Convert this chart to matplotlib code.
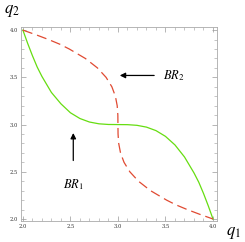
import matplotlib
matplotlib.use('agg')
import matplotlib.pyplot as plt
from matplotlib.ticker import MultipleLocator

# best response of firm 1 (green)
br1_q1 = [2.0, 2.05, 2.1, 2.15, 2.2, 2.3, 2.4, 2.5, 2.6, 2.7, 2.8, 2.9, 3.0,
          3.1, 3.2, 3.3, 3.4, 3.5, 3.6, 3.7, 3.8, 3.85, 3.9, 3.95, 4.0]
br1_q2 = [4.0, 3.86, 3.73, 3.61, 3.51, 3.34, 3.22, 3.125, 3.064, 3.027, 3.008,
          3.001, 3.0, 2.999, 2.992, 2.973, 2.936, 2.875, 2.784, 2.657, 2.488,
          2.39, 2.271, 2.14, 2.0]
# best response of firm 2 (red dashed)
br2_q2 = [4.0, 3.95, 3.9, 3.85, 3.8, 3.7, 3.6, 3.5, 3.4, 3.3, 3.2, 3.1, 3.0,
          2.9, 2.8, 2.7, 2.6, 2.5, 2.4, 2.3, 2.2, 2.15, 2.1, 2.05, 2.0]
br2_q1 = [2.0, 2.14, 2.271, 2.39, 2.488, 2.657, 2.784, 2.875, 2.936, 2.973,
          2.992, 2.999, 3.0, 3.001, 3.008, 3.027, 3.064, 3.125, 3.216, 3.343,
          3.512, 3.61, 3.729, 3.86, 4.0]

plt.rcParams['mathtext.fontset'] = 'stix'
plt.rcParams['font.family'] = 'DejaVu Serif'

fig = plt.figure(figsize=(2.45, 2.42), dpi=100)
ax = fig.add_axes([0.0857, 0.0868, 0.8, 0.8012])
ax.plot(br1_q1, br1_q2, color='#66dd11', lw=0.9)
ax.plot(br2_q1, br2_q2, color='#e04a32', lw=0.9, dashes=(8, 4))

ax.set_xlim(1.98, 4.042)
ax.set_ylim(1.979, 4.032)
for a in (ax.xaxis, ax.yaxis):
    a.set_major_locator(MultipleLocator(0.5))
    a.set_minor_locator(MultipleLocator(0.1))
ax.tick_params(which='both', direction='in', top=True, right=True,
               labelsize=3.8, color='#999999', labelcolor='#333333', pad=2)
ax.tick_params(which='major', length=3.5, width=0.5)
ax.tick_params(which='minor', length=2, width=0.4)
ax.xaxis.set_major_formatter(plt.FuncFormatter(lambda v, p: '%.1f' % v))
ax.yaxis.set_major_formatter(plt.FuncFormatter(lambda v, p: '%.1f' % v))
for s in ax.spines.values():
    s.set_color('#aaaaaa')
    s.set_linewidth(0.6)

ax.annotate('', xy=(2.99, 3.52), xytext=(3.41, 3.52),
            arrowprops=dict(arrowstyle='-|>', color='black', lw=0.9,
                            mutation_scale=8))
ax.text(3.47, 3.52, '$BR_2$', fontsize=9, va='center', ha='left')
ax.annotate('', xy=(2.53, 2.94), xytext=(2.53, 2.59),
            arrowprops=dict(arrowstyle='-|>', color='black', lw=0.9,
                            mutation_scale=8))
ax.text(2.53, 2.36, '$BR_1$', fontsize=9, va='center', ha='center')

fig.text(0.955, 0.04, '$q_1$', fontsize=12, ha='center', va='center')
fig.text(0.05, 0.955, '$q_2$', fontsize=12, ha='center', va='center')

fig.savefig('out.png', dpi=100)
